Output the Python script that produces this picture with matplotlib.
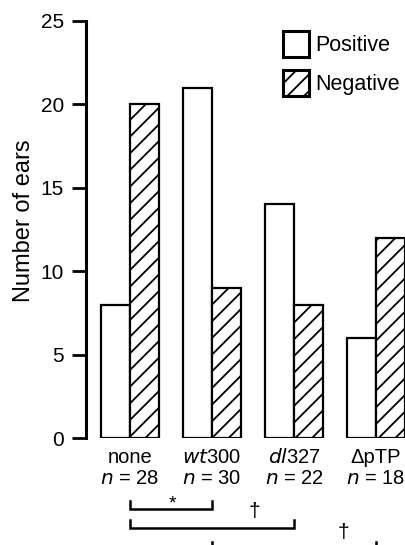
import matplotlib.pyplot as plt
import numpy as np

plt.rcParams['font.family'] = ['Liberation Sans', 'DejaVu Sans']
plt.rcParams['hatch.linewidth'] = 1.3

# data
groups = ['none', 'wt300', 'dl327', 'dpTP']
group_labels = ['none', r'$\it{wt}$300', r'$\it{dl}$327', '\u0394pTP']
n_labels = ['28', '30', '22', '18']
positive = [8, 21, 14, 6]
negative = [20, 9, 8, 12]

fig = plt.figure(figsize=(4.06, 5.45), dpi=100)
ax = fig.add_axes([86 / 406, 107 / 545, 320 / 406, 417 / 545])

x = np.arange(len(groups))
w = 0.35
ax.bar(x - w / 2, positive, w, color='white', edgecolor='black', linewidth=1.6, label='Positive')
ax.bar(x + w / 2, negative, w, color='white', edgecolor='black', linewidth=1.6,
       hatch='//', label='Negative')

ax.set_xlim(-0.537, 3.366)
ax.set_ylim(0, 25)
ax.set_yticks([0, 5, 10, 15, 20, 25])
ax.set_xticks([])
for s in ['top', 'right', 'bottom']:
    ax.spines[s].set_visible(False)
ax.spines['left'].set_linewidth(2.2)
ax.tick_params(axis='y', length=10, width=2, labelsize=15, pad=6)
ax.set_ylabel('Number of ears', fontsize=17)
ax.yaxis.set_label_coords(-0.158, 0.52)

# category labels under the bars
for i, (lab, n) in enumerate(zip(group_labels, n_labels)):
    ax.text(i, -1.15, lab, ha='center', va='center', fontsize=14.5, clip_on=False)
    ax.text(i, -2.4, r'$\it{n}$ = ' + n, ha='center', va='center', fontsize=14.5, clip_on=False)

# significance brackets
def bracket(x0, x1, y, tip=0.5):
    ax.plot([x0, x0, x1, x1], [y + tip, y, y, y + tip], color='black', lw=1.8,
            clip_on=False, solid_joinstyle='miter')

bracket(0, 1, -4.26)
ax.text(0.52, -3.95, '*', ha='center', va='center', fontsize=14, clip_on=False)
bracket(0, 2, -5.4)
ax.text(1.52, -4.4, '\u2020', ha='center', va='center', fontsize=15, clip_on=False)
bracket(1, 3, -6.75)
ax.text(2.6, -5.65, '\u2020', ha='center', va='center', fontsize=15, clip_on=False)

leg = ax.legend(loc='upper right', bbox_to_anchor=(0.981, 0.977), frameon=False, fontsize=15.5,
                handlelength=1.2, handleheight=1.48, handletextpad=0.3, labelspacing=0.64,
                borderpad=0, borderaxespad=0)
for h in leg.legend_handles:
    h.set_linewidth(2.2)

fig.savefig('out.png', dpi=100)
